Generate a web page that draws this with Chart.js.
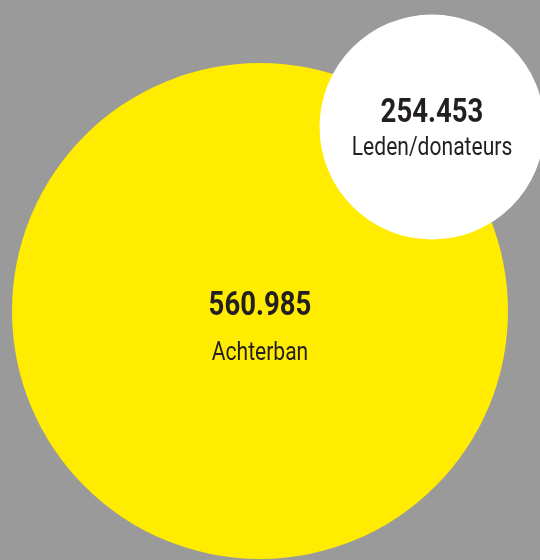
<!DOCTYPE html>
<html>
<head>
<meta charset="utf-8">
<script src="https://cdn.jsdelivr.net/npm/chart.js@4.4.1/dist/chart.umd.min.js"></script>
<style>
  html, body { margin: 0; padding: 0; background: #9a9a9a; }
  #wrap { width: 540px; height: 560px; }
</style>
</head>
<body>
<div id="wrap"><canvas id="chart" width="540" height="560"></canvas></div>
<script>
// data
const labels = ['Achterban', 'Leden/donateurs'];
const values = [560985, 254453];

// layout (pixel-like units on hidden 540x560 axes)
const centers = [[260, 311], [432, 127]];
const pxPerUnit = 248 / 560985;          // radius grows linearly with value
const colors = ['#ffec00', '#ffffff'];
const textOffsets = [[4, 49], [-5, 28]]; // baseline of number, baseline of label
const squeeze = 0.81;                    // fake a condensed face

const fmt = v => String(v).replace(/\B(?=(\d{3})+(?!\d))/g, '.');

const bubbleLabels = {
    id: 'bubbleLabels',
    afterDatasetsDraw(chart) {
        const { ctx } = chart;
        const meta = chart.getDatasetMeta(0);
        meta.data.forEach((pt, i) => {
            ctx.save();
            ctx.translate(pt.x, pt.y);
            ctx.scale(squeeze, 1);
            ctx.fillStyle = '#231f20';
            ctx.textAlign = 'center';
            ctx.textBaseline = 'alphabetic';
            ctx.font = 'bold 34px Roboto, "Liberation Sans", sans-serif';
            ctx.fillText(fmt(values[i]), 0, textOffsets[i][0]);
            ctx.font = '26px Roboto, "Liberation Sans", sans-serif';
            ctx.fillText(labels[i], 0, textOffsets[i][1]);
            ctx.restore();
        });
    }
};

const data = {
    labels: labels,
    datasets: [{
        data: values.map((v, i) => ({ x: centers[i][0], y: centers[i][1], r: v * pxPerUnit })),
        backgroundColor: colors,
        borderWidth: 0,
        hoverBorderWidth: 0,
        clip: false
    }]
};

const config = {
    type: 'bubble',
    data: data,
    options: {
        responsive: false,
        animation: false,
        events: [],
        layout: { padding: 0, autoPadding: false },
        plugins: {
            legend: { display: false },
            tooltip: { enabled: false }
        },
        scales: {
            x: { type: 'linear', min: 0, max: 540, display: false },
            y: { type: 'linear', min: 0, max: 560, reverse: true, display: false }
        }
    },
    plugins: [bubbleLabels]
};

new Chart(document.getElementById('chart'), config);
</script>
</body>
</html>
